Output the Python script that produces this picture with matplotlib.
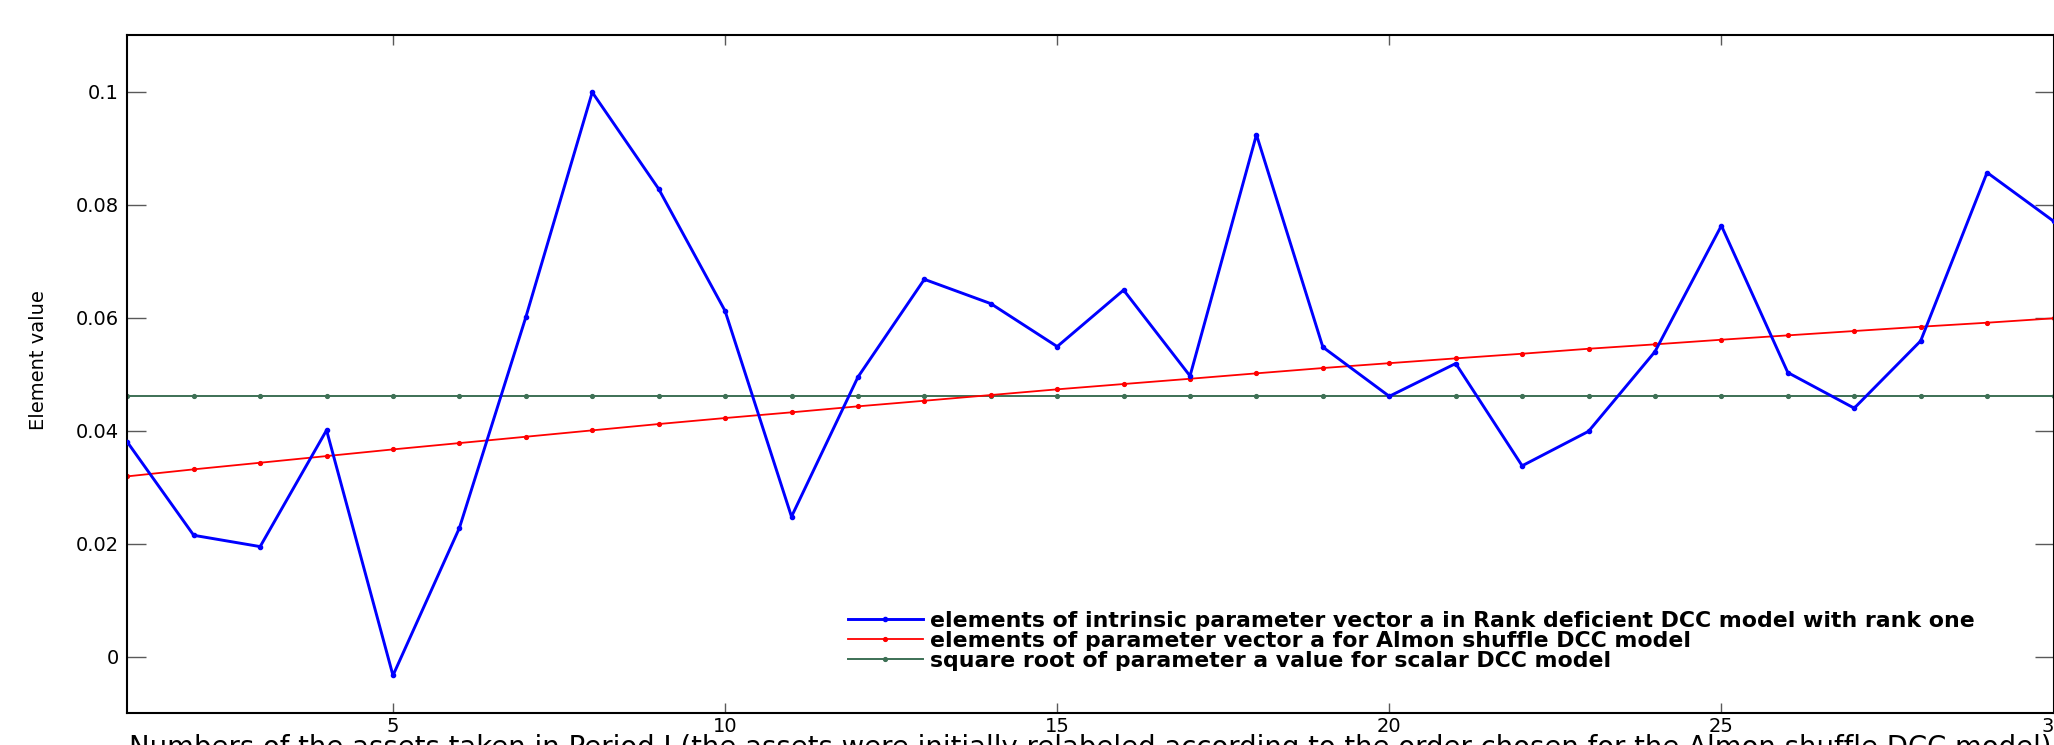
import matplotlib
matplotlib.use("Agg")
import matplotlib.pyplot as plt
from matplotlib import font_manager

# ---------------- data ----------------
assets = list(range(1, 31))
rank_deficient_a = [0.0380, 0.0215, 0.0195, 0.0401, -0.0033, 0.0228, 0.0601, 0.0999, 0.0828, 0.0612,
                    0.0248, 0.0495, 0.0668, 0.0625, 0.0549, 0.0649, 0.0497, 0.0924, 0.0548, 0.0461,
                    0.0519, 0.0338, 0.0399, 0.0540, 0.0763, 0.0503, 0.0440, 0.0559, 0.0857, 0.0771]
almon_shuffle_a = [0.03193, 0.03317, 0.03434, 0.03552, 0.03670, 0.03782, 0.03894, 0.04007, 0.04119, 0.04225,
                   0.04326, 0.04432, 0.04531, 0.04632, 0.04733, 0.04827, 0.04920, 0.05016, 0.05110, 0.05196,
                   0.05281, 0.05363, 0.05451, 0.05529, 0.05611, 0.05688, 0.05765, 0.05841, 0.05912, 0.05990]
scalar_sqrt_a = [0.0461] * 30

xticks = [5, 10, 15, 20, 25, 30]
yticks = [0, 0.02, 0.04, 0.06, 0.08, 0.1]
yticklabels = ["0", "0.02", "0.04", "0.06", "0.08", "0.1"]

labels = ["elements of intrinsic parameter vector a in Rank deficient DCC model with rank one",
          "elements of parameter vector a for Almon shuffle DCC model",
          "square root of parameter a value for scalar DCC model"]
xlabel = ("Numbers of the assets taken in Period I (the assets were initially relabeled "
          "according to the order chosen for the Almon shuffle DCC model)")
ylabel = "Element value"

# ---------------- figure ----------------
W, H = 2054, 745
fig = plt.figure(figsize=(W / 100, H / 100), dpi=100)
ax = fig.add_axes([127.3 / W, (H - 713.3) / H, (2053.5 - 127.3) / W, (713.3 - 35.2) / H])

blue = "#0000FF"
red = "#FF0000"
green = "#3D7055"

ax.plot(assets, rank_deficient_a, color=blue, lw=2.1, marker=".", ms=6, label=labels[0], zorder=3)
ax.plot(assets, almon_shuffle_a, color=red, lw=1.3, marker=".", ms=5.5, label=labels[1], zorder=2)
ax.plot(assets, scalar_sqrt_a, color=green, lw=1.4, marker=".", ms=5.5, label=labels[2], zorder=1)

ax.set_xlim(1, 30)
ax.set_ylim(-0.01, 0.11)
ax.set_xticks(xticks)
ax.set_xticklabels([str(t) for t in xticks])
ax.set_yticks(yticks)
ax.set_yticklabels(yticklabels)

for sp in ax.spines.values():
    sp.set_linewidth(1.5)
    sp.set_color("black")

ax.tick_params(axis="both", which="both", direction="in", top=True, right=True,
               color="0.35", width=1.0, labelsize=14, labelcolor="black")
ax.tick_params(axis="y", length=13.5, pad=6)
ax.tick_params(axis="x", length=7.5, pad=3)
for t in ax.get_xticklabels() + ax.get_yticklabels():
    t.set_family("DejaVu Sans")

# y label (narrow font if available)
avail = {f.name for f in font_manager.fontManager.ttflist}
yfam = ["Liberation Sans Narrow", "DejaVu Sans"] if "Liberation Sans Narrow" in avail else ["DejaVu Sans"]
fig.text(38 / W, 1 - 360 / H, ylabel, rotation=90, ha="center", va="center",
         fontsize=14, family=yfam)

# x label, partly cut at the bottom of the figure (as in the reference)
xl = fig.text((127.3 + 2053.5) / 2 / W, 1 - 734 / H, xlabel, ha="center", va="top",
              fontsize=17, family="DejaVu Sans")
fig.canvas.draw()
bb = xl.get_window_extent()
xl.set_fontsize(17 * 1920 / bb.width)

leg = ax.legend(loc="upper left", bbox_to_anchor=(848 / W, 1 - 611 / H),
                bbox_transform=fig.transFigure, frameon=False,
                prop={"family": "DejaVu Sans", "weight": "bold", "size": 15.8},
                handlelength=3.4, handletextpad=0.33, labelspacing=0.0,
                borderpad=0, borderaxespad=0, markerscale=1.0)

fig.savefig("out.png", dpi=100)
